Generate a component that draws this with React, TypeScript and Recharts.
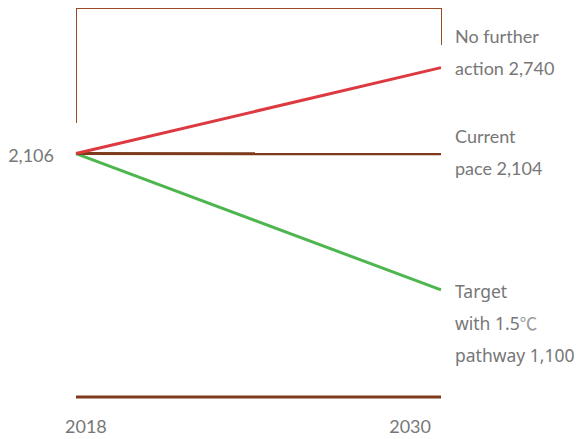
import { LineChart, Line, XAxis, YAxis, ReferenceLine } from 'recharts';

const years = [2018, 2030];
const noFurtherAction = [2106, 2740];
const currentPace = [2106, 2104];
const targetPathway = [2106, 1100];

// value range of the plot and the bracket drawn above the lines
const yDomain = [310, 3180];
const bracketLeftBottom = 2334;
const bracketRightBottom = 2907;

const RED = '#dc3a40';
const BROWN = '#7e3a1c';
const GREEN = '#4db64f';
const BRACKET = '#9a4a26';
const TEXT = '#777777';

const data = years.map((year, i) => ({
  year,
  noFurther: noFurtherAction[i],
  current: currentPace[i],
  target: targetPathway[i],
}));

// a line of text may end with a ℃ sign, drawn in the CJK font like the original
function renderLine(l: string) {
  if (!l.endsWith('\u2103')) return l;
  return (
    <>
      {l.slice(0, -1)}
      <tspan style={{ fontFamily: '"Noto Sans CJK SC"' }} fill="#9a9a9a">
        {'\u2103'}
      </tspan>
    </>
  );
}

function endLabel(lines: string[], dy: number, font: string, size: number, showStart = false) {
  return (props: any) => {
    const { x, y, index, value } = props;
    if (index === 0 && showStart) {
      return (
        <text x={x - 22} y={y} dy={8} textAnchor="end" style={{ fontFamily: 'Lato', fontSize: 18 }} fill={TEXT}>
          {Number(value).toLocaleString('en-US')}
        </text>
      );
    }
    if (index !== data.length - 1) return null;
    return (
      <text x={x + 14} y={y + dy} style={{ fontFamily: font, fontSize: size }} fill={TEXT}>
        {lines.map((l, i) => (
          <tspan key={i} x={x + 14} dy={i === 0 ? 0 : 32}>
            {renderLine(l)}
          </tspan>
        ))}
      </text>
    );
  };
}

const YearTick = (props: any) => {
  const { x, y, payload } = props;
  const first = payload.value === years[0];
  return (
    <text
      x={first ? x - 11 : x - 10}
      y={y}
      dy={28}
      textAnchor={first ? 'start' : 'end'}
      style={{ fontFamily: 'Lato', fontSize: 18 }}
      fill={TEXT}
    >
      {payload.value}
    </text>
  );
};

export default function App() {
  return (
    <>
      <style>{'html,body{margin:0;padding:0;overflow:hidden;background:#fff}'}</style>
      <LineChart
        width={578}
        height={439}
        data={data}
        margin={{ top: 8, right: 137, bottom: 12, left: 76 }}
        style={{ overflow: 'visible' }}
      >
        <XAxis
          type="number"
          dataKey="year"
          domain={[years[0], years[1]]}
          ticks={years}
          height={30}
          axisLine={{ stroke: BROWN, strokeWidth: 3 }}
          tickLine={false}
          tick={<YearTick />}
        />
        <YAxis hide domain={yDomain} />
        <ReferenceLine
          segment={[{ x: years[0], y: yDomain[1] }, { x: years[1], y: yDomain[1] }]}
          stroke={BRACKET}
          strokeWidth={1}
          shapeRendering="crispEdges"
          ifOverflow="visible"
        />
        <ReferenceLine
          segment={[{ x: years[0], y: yDomain[1] }, { x: years[0], y: bracketLeftBottom }]}
          stroke={BRACKET}
          strokeWidth={1}
          shapeRendering="crispEdges"
          ifOverflow="visible"
        />
        <ReferenceLine
          segment={[{ x: years[1], y: yDomain[1] }, { x: years[1], y: bracketRightBottom }]}
          stroke={BRACKET}
          strokeWidth={1}
          shapeRendering="crispEdges"
          ifOverflow="visible"
        />
        <Line
          dataKey="target"
          stroke={GREEN}
          strokeWidth={3}
          dot={false}
          isAnimationActive={false}
          label={endLabel(['Target', 'with 1.5\u2103', 'pathway 1,100'], 8, '"Noto Sans", "Noto Sans CJK SC", sans-serif', 17.5)}
        />
        <Line
          dataKey="current"
          stroke={BROWN}
          strokeWidth={3}
          dot={false}
          isAnimationActive={false}
          label={endLabel(['Current', 'pace 2,104'], -11, 'Lato', 18)}
        />
        <Line
          dataKey="noFurther"
          stroke={RED}
          strokeWidth={3}
          dot={false}
          isAnimationActive={false}
          label={endLabel(['No further', 'action 2,740'], -25, 'Lato', 18, true)}
        />
      </LineChart>
    </>
  );
}
